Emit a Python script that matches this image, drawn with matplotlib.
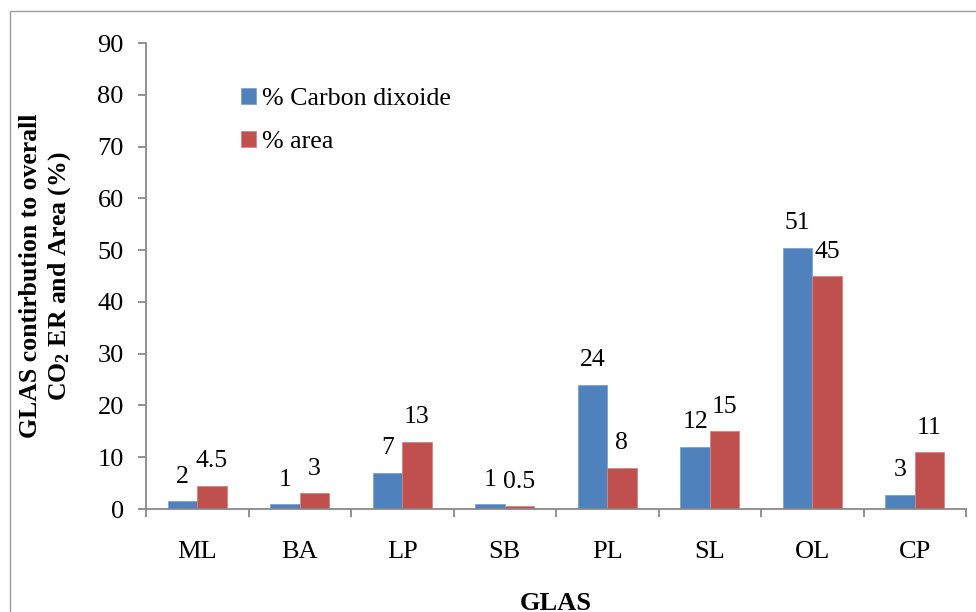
import matplotlib
matplotlib.use("Agg")
import matplotlib.pyplot as plt
from matplotlib.patches import Rectangle
import numpy as np

categories = ["ML", "BA", "LP", "SB", "PL", "SL", "OL", "CP"]
carbon = [1.5, 0.9, 7, 0.9, 24, 12, 50.5, 2.8]
area = [4.5, 3, 13, 0.5, 8, 15, 45, 11]
carbon_labels = ["2", "1", "7", "1", "24", "12", "51", "3"]
area_labels = ["4.5", "3", "13", "0.5", "8", "15", "45", "11"]
series_names = ["% Carbon dixoide", "% area"]
yticks = [0, 10, 20, 30, 40, 50, 60, 70, 80, 90]

plt.rcParams['font.family'] = ['Liberation Serif', 'DejaVu Serif']
plt.rcParams['mathtext.default'] = 'regular'

W, H = 976, 612
fig = plt.figure(figsize=(W / 100, H / 100), dpi=100)
ax = fig.add_axes([146 / W, 1 - 509 / H, 820 / W, 466 / H])

blue = "#4F81BD"
red = "#C0504D"
x = np.arange(len(categories))
bw = 1 / 3.5
b1 = ax.bar(x - bw / 2, carbon, bw, color=blue, edgecolor="#7FA2CF", linewidth=0.6, label=series_names[0])
b2 = ax.bar(x + bw / 2, area, bw, color=red, edgecolor="#D58583", linewidth=0.6, label=series_names[1])

for bars, labs in ((b1, carbon_labels), (b2, area_labels)):
    for r, t in zip(bars, labs):
        ax.annotate(t, (r.get_x() + r.get_width() / 2, r.get_height()),
                    xytext=(0, 13.3), textcoords="offset points",
                    ha="center", va="baseline", fontsize=18.5, color="black")

ax.set_xlim(-0.5, len(categories) - 0.5)
ax.set_ylim(0, 90)
ax.set_yticks(yticks)
ax.set_yticklabels([str(v) for v in yticks])
ax.set_xticks(np.arange(len(categories) + 1) - 0.5)
ax.set_xticklabels([])
ax.set_xticks(x, minor=True)
ax.set_xticklabels(categories, minor=True)

spc = "#898989"
for s in ("top", "right"):
    ax.spines[s].set_visible(False)
for s in ("left", "bottom"):
    ax.spines[s].set_color(spc)
    ax.spines[s].set_linewidth(1.3)
ax.tick_params(axis="y", which="major", direction="out", length=6, width=1.3, color=spc,
               labelsize=19, pad=10)
ax.tick_params(axis="x", which="major", direction="out", length=6, width=1.3, color=spc)
ax.tick_params(axis="x", which="minor", length=0, labelsize=19, pad=23)

ax.set_xlabel("GLAS", fontsize=19, fontweight="bold")
ax.xaxis.set_label_coords(0.5, -0.178)
ax.set_ylabel("GLAS contirbution to overall\nCO$_2$ ER and Area (%)", fontsize=18.5,
              fontweight="bold", linespacing=1.2)
ax.yaxis.set_label_coords(-0.122, 0.5)
ax.yaxis.label.set_verticalalignment("center")

leg = ax.legend(loc="upper left", bbox_to_anchor=((241 - 146) / 820, (509 - 88) / 466),
                frameon=False, fontsize=18.7, handlelength=0.56, handleheight=0.56,
                handletextpad=0.25, labelspacing=0.8, borderpad=0, borderaxespad=0)

fig.patches.append(Rectangle((10 / W, -0.05), 1.2, 1 - 11 / H + 0.05, transform=fig.transFigure,
                             fill=False, edgecolor="#9A9A9A", linewidth=1.0))

fig.savefig("out.png", dpi=100)
